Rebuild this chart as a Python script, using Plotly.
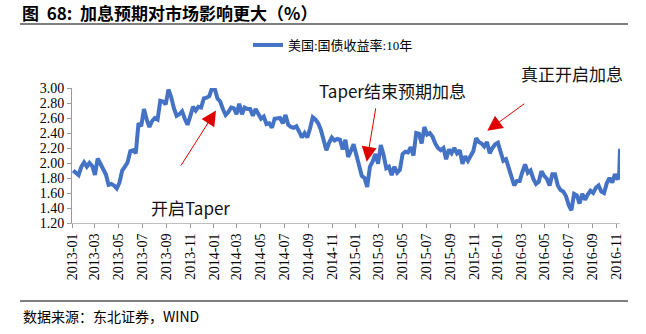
import pandas as pd
import plotly.graph_objects as go

# ---- data: US 10Y Treasury yield (%), weekly (Fridays) ----
y2013 = [1.90, 1.87, 1.84, 1.95,
         2.01, 1.95, 2.00, 1.96,
         1.84, 2.06, 1.99, 1.93, 1.85,
         1.71, 1.72, 1.70, 1.66,
         1.74, 1.90, 1.95, 2.01, 2.16,
         2.17, 2.13, 2.53, 2.49,
         2.72, 2.58, 2.48, 2.56,
         2.60, 2.58, 2.83, 2.82, 2.78,
         2.98, 2.88, 2.73, 2.63,
         2.65, 2.69, 2.59, 2.51,
         2.62, 2.75, 2.70, 2.75, 2.74,
         2.86, 2.87, 2.89, 3.00]
y2014 = [2.99, 2.86, 2.82, 2.72, 2.64,
         2.68, 2.74, 2.73, 2.65,
         2.79, 2.65, 2.74, 2.72,
         2.72, 2.63, 2.72, 2.66,
         2.59, 2.62, 2.52, 2.53, 2.47,
         2.59, 2.60, 2.60, 2.53,
         2.64, 2.51, 2.48, 2.47,
         2.49, 2.42, 2.34, 2.40, 2.34,
         2.46, 2.61, 2.58, 2.53,
         2.44, 2.31, 2.17, 2.27, 2.34,
         2.30, 2.32, 2.31, 2.18,
         2.31, 2.08, 2.16, 2.25]
y2015 = [2.11, 1.95, 1.83, 1.80, 1.68,
         1.95, 2.02, 2.12, 1.99,
         2.24, 2.11, 1.93, 1.95,
         1.84, 1.95, 1.87, 1.91,
         2.12, 2.15, 2.14, 2.21, 2.10,
         2.40, 2.39, 2.26, 2.48,
         2.38, 2.40, 2.35, 2.26, 2.20,
         2.17, 2.20, 2.05, 2.18,
         2.13, 2.20, 2.13, 2.17,
         1.99, 2.09, 2.03, 2.09, 2.16,
         2.33, 2.28, 2.26, 2.22,
         2.28, 2.13, 2.20, 2.25]
y2016 = [2.27, 2.13, 2.03, 2.05, 1.94,
         1.84, 1.70, 1.76, 1.76,
         1.88, 1.98, 1.87, 1.90,
         1.79, 1.72, 1.75, 1.89, 1.83,
         1.79, 1.70, 1.85, 1.85,
         1.70, 1.64, 1.62, 1.56,
         1.44, 1.37, 1.59, 1.57, 1.46,
         1.59, 1.51, 1.58, 1.63,
         1.60, 1.67, 1.70, 1.62, 1.60,
         1.73, 1.80, 1.74, 1.85,
         1.78]
tail_dates = ["2016-11-08", "2016-11-09", "2016-11-10"]
tail_vals = [1.86, 2.07, 2.19]

first_fridays = {"2013": "2013-01-04", "2014": "2014-01-03",
                 "2015": "2015-01-02", "2016": "2016-01-01"}
series_name = "美国:国债收益率:10年"
y_ticks = [1.20, 1.40, 1.60, 1.80, 2.00, 2.20, 2.40, 2.60, 2.80, 3.00]

dates, vals = [], []
for yr, arr in zip(["2013", "2014", "2015", "2016"], [y2013, y2014, y2015, y2016]):
    d = pd.date_range(first_fridays[yr], periods=len(arr), freq="7D")
    dates += [x.strftime("%Y-%m-%d") for x in d]
    vals += arr
dates += tail_dates
vals += tail_vals

x_ticks = [f"{y}-{m:02d}-01" for y in range(2013, 2017) for m in range(1, 13, 2)]
x_ticks = [t for t in x_ticks if t <= "2016-11-01"]
x_ticktext = [t[:7] for t in x_ticks]

# ---- layout geometry (pixels) ----
W, H = 646, 334
L, R, T, B = 72, 26, 88, 111
PW, PH = W - L - R, H - T - B


def fx(px):
    return (px - L) / PW


def fy(py):
    return (H - B - py) / PH


fig = go.Figure()
fig.add_trace(go.Scatter(
    x=dates, y=vals, mode="lines", name=series_name,
    line=dict(color="#4472C4", width=4),
))

serif = "Liberation Serif, Times New Roman, Noto Sans CJK SC"
cjk = "Noto Sans CJK SC, Microsoft YaHei, sans-serif"

fig.update_layout(
    width=W, height=H,
    margin=dict(l=L, r=R, t=T, b=B),
    paper_bgcolor="white", plot_bgcolor="white",
    showlegend=True,
    legend=dict(orientation="h", x=fx(333), xanchor="center",
                y=fy(45), yanchor="middle",
                font=dict(family=serif, size=13, color="#000"),
                bgcolor="rgba(0,0,0,0)"),
    xaxis=dict(
        type="date", range=["2013-01-01", "2016-11-10"],
        tickvals=x_ticks, ticktext=x_ticktext, tickangle=-90,
        ticks="outside", ticklen=4, tickcolor="#999", showline=True,
        linecolor="#bfbfbf", linewidth=1, showgrid=False, zeroline=False,
        tickfont=dict(family=serif, size=14, color="#000"),
    ),
    yaxis=dict(
        range=[1.2, 3.0], tickvals=y_ticks, tickformat=".2f",
        ticks="outside", ticklen=4, tickcolor="#999", showline=True,
        linecolor="#999", linewidth=1, showgrid=False, zeroline=False,
        tickfont=dict(family=serif, size=14, color="#000"),
    ),
)

annos = [
    dict(text="<b>图  68:  加息预期对市场影响更大（%）</b>", x=fx(20), y=fy(12),
         xanchor="left", yanchor="middle",
         font=dict(family=cjk, size=17, color="#000")),
    dict(text="数据来源：东北证券，WIND", x=fx(21), y=fy(316),
         xanchor="left", yanchor="middle",
         font=dict(family=cjk, size=14, color="#000")),
    dict(text="开启Taper", x=fx(190), y=fy(207), xanchor="center", yanchor="middle",
         font=dict(family=cjk, size=17, color="#111")),
    dict(text="Taper结束预期加息", x=fx(392), y=fy(90), xanchor="center", yanchor="middle",
         font=dict(family=cjk, size=17, color="#111")),
    dict(text="真正开启加息", x=fx(572), y=fy(73), xanchor="center", yanchor="middle",
         font=dict(family=cjk, size=17, color="#111")),
]
for a in annos:
    a.update(xref="paper", yref="paper", showarrow=False)

arrows = [((216, 110.5), (180, 167)), ((366.7, 161.7), (376, 106.7)),
          ((487.3, 130.7), (525.7, 102.7))]
for tip, tail in arrows:
    annos.append(dict(
        text="", xref="paper", yref="paper", x=fx(tip[0]), y=fy(tip[1]),
        ax=tail[0] - tip[0], ay=tail[1] - tip[1], showarrow=True,
        arrowhead=2, arrowsize=3, arrowwidth=1, arrowcolor="#E00000",
        standoff=0, startstandoff=0))
fig.update_layout(annotations=annos)

fig.update_layout(shapes=[
    dict(type="line", xref="paper", yref="paper", x0=fx(20), x1=fx(628),
         y0=fy(24), y1=fy(24), line=dict(color="#555", width=1.5)),
    dict(type="line", xref="paper", yref="paper", x0=fx(20), x1=fx(628),
         y0=fy(301), y1=fy(301), line=dict(color="#555", width=1.5)),
])

fig.write_html("out.html")
